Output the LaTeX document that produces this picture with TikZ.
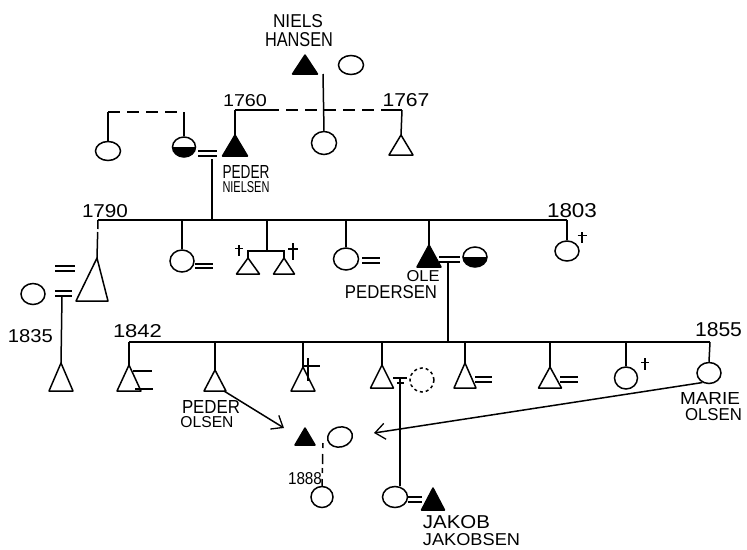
\documentclass[tikz,border=0pt]{standalone}
\usepackage{graphicx}
\usepackage{fontspec}
\setmainfont{Liberation Sans}
\usetikzlibrary{shapes.geometric,arrows.meta}
\newcommand\mylbl[3]{\resizebox{#1pt}{#2pt}{#3}}
\newcommand\mytri[6][]{\coordinate (#2) at (#3,#4); \draw[line join=round,#1] (#2) -- ++(#5,#6) -- ++(-2*#5,0) -- cycle;}
\newcommand\mycross[4]{\draw[line width=1.1pt] (#1,#2) -- ++(0,#4) (#1-#3,#2+0.35*#4) -- ++(2*#3,0);}
\begin{document}
\begin{tikzpicture}[x=1pt,y=-1pt,line width=1.5pt,
  lbl/.style={inner sep=0pt},
  circ/.style={ellipse,draw,inner sep=0pt},
  half/.style={ellipse,draw,inner sep=0pt,path picture={\fill[black] (path picture bounding box.west) rectangle (path picture bounding box.south east);}},
  dsh/.style={dash pattern=on 12pt off 7pt},
  arr/.style={-{Straight Barb[length=10pt,width=16pt,line width=1.3pt]}}]
\useasboundingbox (0,0) rectangle (747,549);

% ---------- generation 1
\node[lbl] (tNiels) at (298,21.5) {\mylbl{50}{13}{NIELS}};
\node[lbl] (tHansen) at (299,39.5) {\mylbl{68}{14}{HANSEN}};
\mytri[fill=black]{nh}{305}{55}{12.5}{19}
\node[circ,minimum width=25pt,minimum height=19pt] (nhw) at (351,65) {};
\coordinate (nhc) at (323,74);
\node[circ,minimum width=25pt,minimum height=23pt] (g2d) at (324,143) {};
\draw (nhc) -- (g2d.north);

\coordinate (l1a) at (235,110);
\coordinate (l1s) at (267,110);
\coordinate (l1t) at (384,110);
\coordinate (l1b) at (402,110);
\draw (l1a) -- (l1s);
\draw[dsh] (l1s) -- (l1t);
\draw (l1t) -- (l1b);
\node[lbl] (t1760) at (245,101) {\mylbl{44}{12}{1760}};
\node[lbl] (t1767) at (406,100.5) {\mylbl{47}{13}{1767}};

\mytri[fill=black]{pn}{235}{135}{12.5}{21}
\draw (l1a) -- (pn);
\mytri{t67}{401}{135}{12}{20}
\draw (l1b) -- (t67);

% left bracket
\node[circ,minimum width=25pt,minimum height=19pt] (c0) at (108,151) {};
\node[half,minimum width=23pt,minimum height=20pt] (pw) at (184,147) {};
\coordinate (lba) at (108,112);
\coordinate (lbb) at (184,112);
\draw (c0.north) -- (lba);
\draw[dsh] (lba) -- (lbb);
\draw (lbb) -- (pw.north);
\draw (198,151) -- (217,151) (198,156) -- (217,156);
\node[lbl] (tPeder1) at (246,171.5) {\mylbl{47}{13}{PEDER}};
\node[lbl] (tNielsen) at (246,187.5) {\mylbl{47}{11}{NIELSEN}};

% ---------- generation 2
\coordinate (pnm) at (212,159);
\coordinate (r2p) at (212,220);
\coordinate (r2a) at (98,220);
\coordinate (r2b) at (567,220);
\draw (pnm) -- (r2p);
\draw (r2a) -- (r2b);
\node[lbl] (t1790) at (105,211.5) {\mylbl{46}{13}{1790}};
\node[lbl] (t1803) at (572,210.5) {\mylbl{50}{14}{1803}};

% big triangle
\coordinate (bigt) at (97,258);
\draw[line join=round] (bigt) -- (108,301) -- (76,301) -- cycle;
\draw[dash pattern=on 9pt off 3pt on 40pt] (r2a) -- (bigt);
\draw (55,266) -- (75,266) (55,271) -- (75,271);
\node[circ,minimum width=24pt,minimum height=21pt] (bw) at (33,294) {};
\draw (55,291) -- (72,291) (55,296) -- (72,296);
\coordinate (bm) at (62,296);
\mytri{k0}{61}{363}{12}{28}
\draw (bm) -- (k0);
\node[lbl] (t1835) at (30.5,336.5) {\mylbl{45}{13}{1835}};

% circle child
\node[circ,minimum width=24pt,minimum height=22pt] (c2a) at (182,261) {};
\draw (c2a.north |- r2a) -- (c2a.north);
\draw (195,264) -- (213,264) (195,268) -- (213,268);

% twins
\coordinate (tw) at (267,220);
\coordinate (twb) at (267,251);
\draw (tw) -- (twb);
\draw (247,251) -- (285,251);
\mytri{tA}{248}{258}{11.5}{16}
\mytri{tB}{284}{258}{10.5}{16}
\draw (248,251) -- (tA) (284,251) -- (tB);
\mycross{239}{245}{4}{11}
\mycross{293}{243}{5}{17}

% circle child 2
\node[circ,minimum width=25pt,minimum height=22pt] (c2c) at (346,259) {};
\draw (c2c.north |- r2a) -- (c2c.north);
\draw (362,258) -- (380,258) (362,263) -- (380,263);

% Ole Pedersen
\mytri[fill=black]{ole}{429}{245}{12}{22}
\draw (ole |- r2a) -- (ole);
\draw (439,257) -- (460,257) (439,262) -- (460,262);
\node[half,minimum width=24pt,minimum height=20pt] (olew) at (475,257) {};
\node[lbl] (tOle) at (423,276.5) {\mylbl{33}{11}{OLE}};
\node[lbl] (tPedersen) at (391,292) {\mylbl{92}{13}{PEDERSEN}};

% 1803 circle
\node[circ,minimum width=24pt,minimum height=20pt] (c2f) at (567,251) {};
\draw (r2b) -- (c2f.north);
\mycross{582}{232}{4.5}{11}

% ---------- generation 3
\coordinate (olm) at (448,262);
\coordinate (r3p) at (448,342);
\coordinate (r3a) at (129,342);
\coordinate (r3b) at (710,342);
\draw (olm) -- (r3p);
\draw (r3a) -- (r3b);
\node[lbl] (t1842) at (137.5,331.5) {\mylbl{49}{13}{1842}};
\node[lbl] (t1855) at (718.5,330) {\mylbl{47}{14}{1855}};

\mytri{k1}{129}{365}{12}{26}
\draw (r3a) -- (k1);
\draw (133,371) -- (152,371) (135,389) -- (153,389);

\mytri{k2}{215}{370}{11}{21}
\draw (k2 |- r3a) -- (k2);
\node[lbl] (tPeder2) at (211,406.5) {\mylbl{58}{13}{PEDER}};
\node[lbl] (tOlsen1) at (207,422.5) {\mylbl{53}{11}{OLSEN}};

\mytri{k3}{303}{367}{12}{24}
\draw (k3 |- r3a) -- (k3);
\draw[line width=1.1pt] (308,358) -- (308,381) (302,366) -- (320,366);

\mytri{k4}{382}{365}{11.5}{23}
\draw (k4 |- r3a) -- (k4);
\draw (393,378) -- (407,378) (397,383) -- (404,383);
\coordinate (kq) at (400,378);
\node[circ,dashed,minimum width=24pt,minimum height=24pt] (kqw) at (422,380) {};

\mytri{k5}{465}{363}{11}{25}
\draw (k5 |- r3a) -- (k5);
\draw (475,377) -- (492,377) (475,382) -- (492,382);

\mytri{k6}{550}{367}{11.5}{21}
\draw (k6 |- r3a) -- (k6);
\draw (560,377) -- (578,377) (560,382) -- (578,382);

\node[circ,minimum width=23pt,minimum height=22pt] (k7) at (626,378) {};
\draw (k7.north |- r3a) -- (k7.north);
\mycross{645}{358}{4}{12}

\node[circ,minimum width=24pt,minimum height=21pt] (k8) at (709,373) {};
\draw (r3b) -- (k8.north);
\node[lbl] (tMarie) at (710,398.5) {\mylbl{60}{12}{MARIE}};
\node[lbl] (tOlsen2) at (713.5,415) {\mylbl{57}{12}{OLSEN}};

% ---------- generation 4
\mytri[fill=black]{po}{305}{428}{10}{17}
\node[circ,rotate=15,minimum width=25pt,minimum height=20pt] (mo) at (340,437) {};
\coordinate (pom) at (323,443);
\node[circ,minimum width=22pt,minimum height=21pt] (gd) at (322,497) {};
\draw[dash pattern=on 5pt off 6pt on 10pt off 4pt] (pom) -- (gd.north);
\node[lbl] (t1888) at (305,479) {\mylbl{34}{12}{1888}};

\node[circ,minimum width=25pt,minimum height=21pt] (dau) at (395,497) {};
\draw (kq) -- (kq |- dau.north);
\draw (408,497) -- (422,497) (408,502) -- (422,502);
\mytri[fill=black]{jk}{433}{488}{11.5}{22}
\node[lbl] (tJakob) at (456.5,522) {\mylbl{67}{13}{JAKOB}};
\node[lbl] (tJakobsen) at (471.5,539.5) {\mylbl{97}{12}{JAKOBSEN}};

% arrows
\coordinate (pa1) at (224,391);
\coordinate (pa2) at (284,428);
\draw[arr] (pa1) -- (pa2);
\coordinate (ma2) at (374,433);
\draw[arr] (k8.235) -- (ma2);
\end{tikzpicture}
\end{document}
